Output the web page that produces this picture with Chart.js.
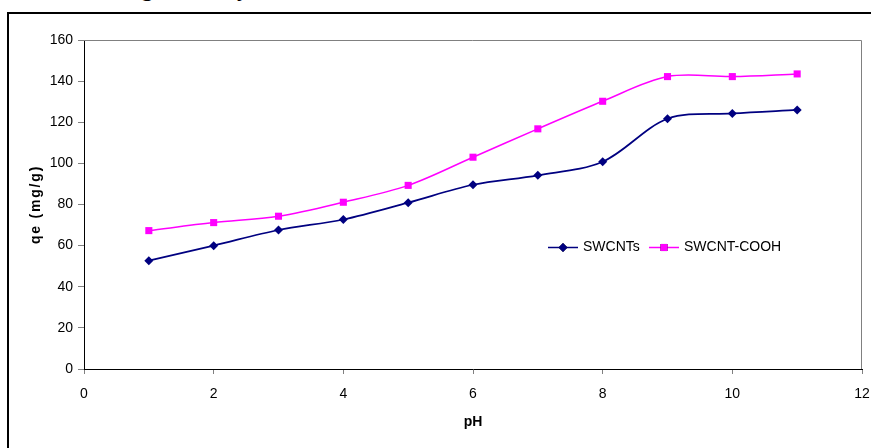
<!DOCTYPE html>
<html>
<head>
<meta charset="utf-8">
<script src="https://cdn.jsdelivr.net/npm/chart.js@4/dist/chart.umd.min.js"></script>
<style>
  body { margin: 0; background: #fff; }
  #wrap { position: relative; width: 871px; height: 448px; overflow: hidden; background: #fff; }
  #frame { position: absolute; left: 7px; top: 12px; width: 900px; height: 500px; border: 2px solid #000; box-sizing: border-box; }
  .cut { position: absolute; top: -25px; font-family: "Liberation Serif", "Times New Roman", serif; font-size: 25px; line-height: 25px; }
  canvas { position: absolute; left: 0; top: 0; }
</style>
</head>
<body>
<div id="wrap">
  <div id="frame"></div>
  <span class="cut" style="left:141px">g</span>
  <span class="cut" style="left:237px">y</span>
  <canvas id="myChart" width="871" height="448"></canvas>
</div>
<script>
// pH values and adsorption capacity for each adsorbent
const phValues = [1, 2, 3, 4, 5, 6, 7, 8, 9, 10, 11];
const swcnts = [52.7, 60.0, 67.6, 72.7, 80.9, 89.6, 94.2, 100.8, 121.7, 124.3, 126.0];
const swcntCooh = [67.3, 71.2, 74.3, 81.1, 89.3, 103.0, 116.8, 130.2, 142.2, 142.2, 143.5];
const seriesNames = ['SWCNTs', 'SWCNT-COOH'];
const yTitle = 'qe (mg/g)';

const FONT = '"Liberation Sans", Arial, sans-serif';

function toPoints(values) {
    return phValues.map(function(x, i) { return { x: x, y: values[i] }; });
}

// gray top/right edge of the plot area + the spaced-out y title
const plotFrame = {
    id: 'plotFrame',
    beforeDatasetsDraw(chart) {
        const a = chart.chartArea;
        const c = chart.ctx;
        c.save();
        c.strokeStyle = '#808080';
        c.lineWidth = 1;
        c.beginPath();
        c.moveTo(a.left, a.top + 0.5);
        c.lineTo(a.right - 0.5, a.top + 0.5);
        c.lineTo(a.right - 0.5, a.bottom);
        c.stroke();

        c.translate(36, (a.top + a.bottom) / 2);
        c.rotate(-Math.PI / 2);
        c.font = 'bold 14px ' + FONT;
        c.letterSpacing = '1.8px';
        c.fillStyle = '#000';
        c.textAlign = 'center';
        c.textBaseline = 'middle';
        c.fillText(yTitle, 0, 0);
        c.restore();
    }
};

// legend drawn inside the plot like the original
const innerLegend = {
    id: 'innerLegend',
    afterDraw(chart) {
        const c = chart.ctx;
        const y = 247.5;
        const items = [
            { x: 548, textX: 583 },
            { x: 649, textX: 684 }
        ];
        c.save();
        c.font = '14px ' + FONT;
        c.textBaseline = 'middle';
        items.forEach(function(it, i) {
            const ds = chart.data.datasets[i];
            c.strokeStyle = ds.borderColor;
            c.lineWidth = 1.5;
            c.beginPath();
            c.moveTo(it.x, y);
            c.lineTo(it.x + 30, y);
            c.stroke();
            Chart.helpers.drawPoint(c, {
                pointStyle: ds.pointStyle,
                radius: ds.pointRadius,
                borderWidth: 0
            }, it.x + 15, y);
            c.fillStyle = ds.pointBackgroundColor;
            c.fill();
            c.fillStyle = '#000';
            c.fillText(seriesNames[i], it.textX, y);
        });
        c.restore();
    }
};

const ctx = document.getElementById('myChart').getContext('2d');
const myChart = new Chart(ctx, {
    type: 'line',
    data: {
        datasets: [{
            label: seriesNames[0],
            data: toPoints(swcnts),
            borderColor: '#000080',
            backgroundColor: '#000080',
            pointBackgroundColor: '#000080',
            pointBorderColor: '#000080',
            pointStyle: 'rectRot',
            pointRadius: 4.5,
            pointBorderWidth: 0,
            borderWidth: 1.75,
            tension: 0.33
        }, {
            label: seriesNames[1],
            data: toPoints(swcntCooh),
            borderColor: '#FF00FF',
            backgroundColor: '#FF00FF',
            pointBackgroundColor: '#FF00FF',
            pointBorderColor: '#FF00FF',
            pointStyle: 'rect',
            pointRadius: 5,
            pointBorderWidth: 0,
            borderWidth: 1.5,
            tension: 0.33
        }]
    },
    options: {
        responsive: false,
        animation: false,
        layout: { padding: { left: 0, right: 0, top: 40, bottom: 0 } },
        plugins: {
            legend: { display: false },
            tooltip: { enabled: false }
        },
        scales: {
            x: {
                type: 'linear',
                min: 0,
                max: 12,
                ticks: { stepSize: 2, color: '#000', padding: 12, font: { family: FONT, size: 14 } },
                grid: { drawOnChartArea: false, color: '#808080', tickLength: 5 },
                border: { color: '#000', width: 1 },
                title: {
                    display: true,
                    text: 'pH',
                    color: '#000',
                    font: { family: FONT, size: 14, weight: 'bold' },
                    padding: { top: 0, bottom: 17 }
                },
                afterFit(scale) {
                    scale.height = 79;
                    scale.paddingRight = 9;
                }
            },
            y: {
                min: 0,
                max: 160,
                ticks: { stepSize: 20, color: '#000', padding: 5, font: { family: FONT, size: 14 } },
                grid: { drawOnChartArea: false, color: '#808080', tickLength: 6 },
                border: { color: '#000', width: 1 },
                afterFit(scale) { scale.width = 84; }
            }
        }
    },
    plugins: [plotFrame, innerLegend]
});
</script>
</body>
</html>
